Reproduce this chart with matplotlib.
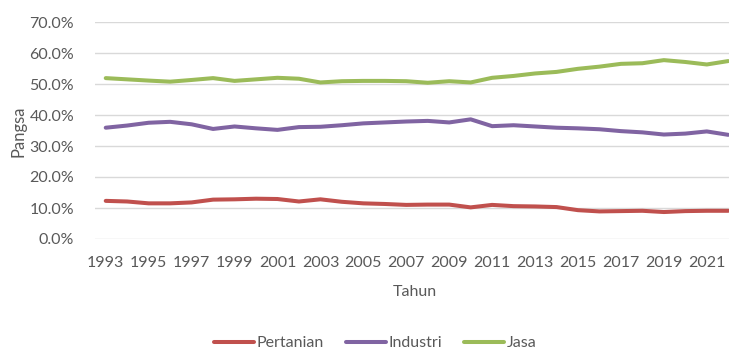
import numpy as np
import matplotlib.pyplot as plt
from matplotlib.ticker import PercentFormatter

plt.rcParams['font.family'] = ['Lato', 'DejaVu Sans']

years = list(range(1993, 2023))
pertanian = [12.3, 12.1, 11.5, 11.5, 11.8, 12.7, 12.8, 13.0, 12.9, 12.1,
             12.8, 12.0, 11.5, 11.3, 11.0, 11.1, 11.1, 10.2, 11.0, 10.6,
             10.5, 10.3, 9.3, 8.9, 9.0, 9.1, 8.7, 9.0, 9.1, 9.1]
industri = [35.9, 36.6, 37.5, 37.8, 37.0, 35.5, 36.3, 35.7, 35.2, 36.1,
            36.2, 36.7, 37.3, 37.6, 37.9, 38.1, 37.6, 38.6, 36.4, 36.7,
            36.3, 35.9, 35.7, 35.4, 34.8, 34.4, 33.7, 34.0, 34.7, 33.6]
jasa = [51.9, 51.5, 51.1, 50.75, 51.3, 51.9, 51.0, 51.5, 52.0, 51.7,
        50.5, 50.9, 51.0, 51.0, 50.9, 50.4, 50.9, 50.5, 52.0, 52.6,
        53.4, 53.9, 54.9, 55.6, 56.5, 56.7, 57.7, 57.1, 56.3, 57.4]

series = [('Pertanian', pertanian, '#C0504D'),
          ('Industri', industri, '#8064A2'),
          ('Jasa', jasa, '#9BBB59')]

W, H = 729, 349
FS = 11.5
fig = plt.figure(figsize=(W / 100, H / 100), dpi=100)
# plot area runs a little past the right edge of the image
ax = fig.add_axes([95 / W, (H - 239) / H, (739 - 95) / W, 217 / H])

x = np.arange(len(years))
for name, vals, col in series:
    ax.plot(x, vals, color=col, lw=2.9, label=name, solid_capstyle='round')

ax.set_xlim(-0.5, len(years) - 0.5)
ax.set_ylim(0, 70)
ax.set_yticks(np.arange(0, 71, 10))
ax.yaxis.set_major_formatter(PercentFormatter(decimals=1))
ax.set_xticks(x[::2])
ax.set_xticklabels([str(y) for y in years[::2]])

ax.grid(axis='y', color='#D9D9D9', lw=1)
ax.set_axisbelow(True)
for s in ax.spines.values():
    s.set_visible(False)
ax.tick_params(length=0, colors='#595959', labelsize=FS)
ax.tick_params(axis='y', pad=15)
ax.tick_params(axis='x', pad=12)

fig.text(415 / W, (H - 292) / H, 'Tahun', ha='center', va='center',
         color='#595959', fontsize=FS)
fig.text(18 / W, (H - 131) / H, 'Pangsa', ha='center', va='center',
         rotation=90, color='#595959', fontsize=FS + 0.5)

fig.legend(loc='center', bbox_to_anchor=(375 / W, (H - 343) / H), ncol=3,
           frameon=False, fontsize=FS, handlelength=2.5, handletextpad=0.15,
           columnspacing=1.4, borderpad=0, labelcolor='#595959')

fig.savefig('out.png', dpi=100)
